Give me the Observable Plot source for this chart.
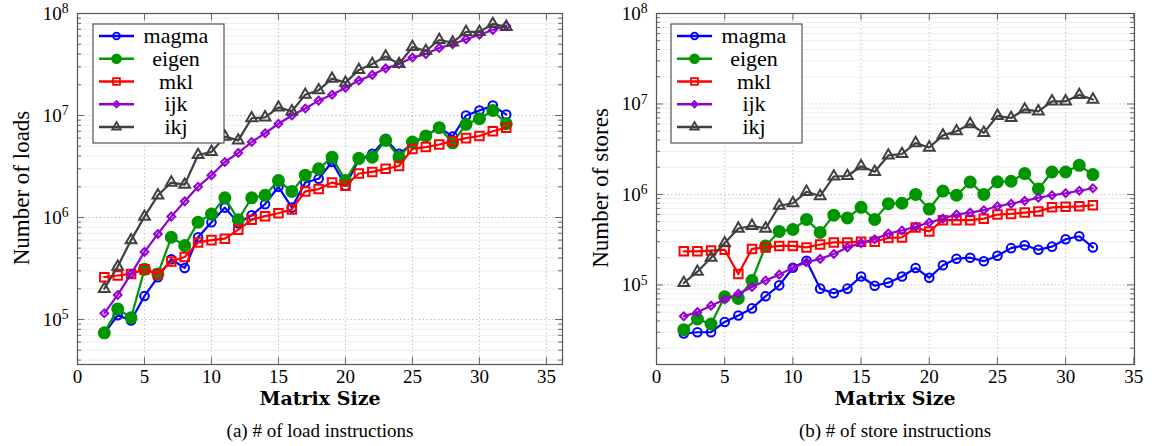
<!DOCTYPE html>
<html><head><meta charset="utf-8">
<script src="https://cdn.jsdelivr.net/npm/d3@7"></script>
<script src="https://cdn.jsdelivr.net/npm/@observablehq/plot@0.6"></script>
<style>
body{margin:0;background:#fff;}
#wrap{position:relative;width:1153px;height:446px;overflow:hidden;font-family:"Liberation Serif","Tinos","Times New Roman","DejaVu Serif",serif;color:#000;}
.panel{position:absolute;top:0;}
.xlabel{position:absolute;top:387px;font-family:"DejaVu Serif",serif;font-weight:bold;font-size:19px;transform:translateX(-50%);white-space:nowrap;}
.caption{position:absolute;top:420px;font-size:19px;transform:translateX(-50%);white-space:nowrap;}
.ylabel{position:absolute;font-size:23px;white-space:nowrap;transform:translate(-50%,-50%) rotate(-90deg);}
</style></head>
<body><div id="wrap"></div>
<script>
// ---------- data ----------
const sizes = [2,3,4,5,6,7,8,9,10,11,12,13,14,15,16,17,18,19,20,21,22,23,24,25,26,27,28,29,30,31,32];
const seriesNames = ["magma","eigen","mkl","ijk","ikj"];

const loadsMagma = [7.3e4,1.1e5,9.8e4,1.7e5,2.6e5,3.9e5,3.2e5,6.4e5,9.0e5,1.25e6,8.8e5,1.05e6,1.35e6,2.0e6,1.25e6,2.2e6,2.4e6,3.5e6,2.05e6,3.7e6,4.2e6,5.9e6,4.2e6,5.3e6,6.3e6,7.7e6,6.2e6,1.0e7,1.12e7,1.25e7,1.02e7];
const loadsEigen = [7.4e4,1.27e5,1.04e5,3.1e5,2.8e5,6.4e5,5.3e5,9.0e5,1.08e6,1.56e6,9.5e5,1.56e6,1.65e6,2.3e6,1.8e6,2.6e6,3.0e6,3.9e6,2.3e6,3.8e6,3.9e6,5.7e6,3.9e6,5.5e6,6.3e6,7.6e6,5.4e6,8.2e6,9.3e6,1.12e7,8.3e6];
const loadsMkl = [2.6e5,2.7e5,2.8e5,3.1e5,2.8e5,3.7e5,4.1e5,5.7e5,6.0e5,6.2e5,7.6e5,9.5e5,1.03e6,1.1e6,1.2e6,1.8e6,1.9e6,2.2e6,2.05e6,2.7e6,2.8e6,3.0e6,3.2e6,4.7e6,4.9e6,5.2e6,5.6e6,6.0e6,6.3e6,7.0e6,7.6e6];
const loadsIjk = [1.15e5,1.74e5,2.8e5,4.6e5,6.9e5,1.02e6,1.44e6,2.0e6,2.6e6,3.5e6,4.3e6,5.5e6,6.7e6,8.3e6,1.0e7,1.17e7,1.4e7,1.6e7,1.87e7,2.2e7,2.5e7,2.9e7,3.2e7,3.7e7,4.0e7,4.6e7,5.0e7,5.6e7,6.2e7,6.9e7,7.6e7];
const loadsIkj = [2.0e5,3.3e5,6.0e5,1.02e6,1.65e6,2.2e6,2.1e6,4.1e6,4.4e6,6.2e6,5.7e6,9.4e6,9.6e6,1.2e7,1.1e7,1.6e7,1.77e7,2.3e7,2.1e7,2.8e7,3.2e7,3.8e7,3.2e7,4.7e7,4.3e7,5.5e7,5.2e7,6.6e7,6.6e7,7.9e7,7.4e7];

const storesMagma = [2.9e4,3.0e4,3.0e4,3.9e4,4.6e4,5.5e4,7.5e4,9.9e4,1.55e5,1.85e5,9.1e4,8.1e4,9.1e4,1.24e5,9.8e4,1.06e5,1.24e5,1.54e5,1.2e5,1.65e5,1.95e5,2.0e5,1.83e5,2.1e5,2.55e5,2.75e5,2.45e5,2.65e5,3.2e5,3.45e5,2.6e5];
const storesEigen = [3.2e4,4.2e4,3.7e4,7.4e4,7.1e4,1.12e5,2.7e5,3.9e5,4.1e5,5.3e5,3.8e5,5.9e5,5.5e5,7.2e5,5.3e5,7.9e5,8.0e5,1.0e6,6.9e5,1.09e6,9.8e5,1.37e6,1.0e6,1.38e6,1.4e6,1.7e6,1.15e6,1.77e6,1.77e6,2.1e6,1.66e6];
const storesMkl = [2.35e5,2.35e5,2.4e5,2.45e5,1.32e5,2.5e5,2.6e5,2.7e5,2.7e5,2.6e5,2.8e5,2.95e5,2.95e5,3.0e5,3.0e5,3.3e5,3.35e5,4.3e5,3.9e5,5.2e5,5.2e5,5.2e5,5.4e5,6.0e5,6.1e5,6.3e5,6.5e5,7.2e5,7.3e5,7.4e5,7.6e5];
const storesIjk = [4.5e4,5.0e4,5.9e4,6.9e4,8.0e4,9.5e4,1.12e5,1.3e5,1.55e5,1.78e5,1.94e5,2.2e5,2.6e5,2.9e5,3.2e5,3.7e5,4.0e5,4.4e5,4.9e5,5.4e5,6.0e5,6.3e5,6.7e5,7.4e5,7.9e5,8.5e5,9.2e5,9.8e5,1.03e6,1.1e6,1.17e6];
const storesIkj = [1.05e5,1.4e5,2.0e5,2.9e5,4.2e5,4.5e5,4.2e5,7.5e5,8.0e5,1.07e6,9.6e5,1.58e6,1.6e6,2.05e6,1.78e6,2.7e6,2.8e6,3.7e6,3.3e6,4.5e6,5.0e6,6.0e6,4.8e6,7.4e6,7.0e6,8.7e6,8.3e6,1.07e7,1.07e7,1.26e7,1.12e7];

const yMajorTicks = [1e5,1e6,1e7,1e8];
const xTickValues = [0,5,10,15,20,25,30,35];
const yLabels = ["Number of loads","Number of stores"];
const xLabel = "Matrix Size";
const captions = ["(a) # of load instructions","(b) # of store instructions"];

const FONT = "'Liberation Serif', Tinos, 'Times New Roman', 'DejaVu Serif', serif";

// ---------- styles ----------
const styles = {
  magma:{color:"#0000ff", symbol:"circle",   fill:"none",    r:4.3},
  eigen:{color:"#009600", symbol:"circle",   fill:"#009600", r:5.5},
  mkl:  {color:"#ff0000", symbol:"square",   fill:"none",    r:4.8},
  ijk:  {color:"#9400d3", symbol:"diamond2", fill:"none",    r:3.5},
  ikj:  {color:"#404040", symbol:"triangle", fill:"none",    r:4.0}
};

function rows(arrs){
  return seriesNames.flatMap((s,k)=>sizes.map((n,i)=>({series:s, n, v:arrs[k][i]})));
}

function panel(opts){
  const {data, yDomain, xDomain, width, height, ml, mr, mt, mb, legendX} = opts;
  const pw = width - ml - mr, ph = height - mt - mb;
  const minor = [];
  for (let e=3;e<8;e++) for (let m=2;m<10;m++){const v=m*Math.pow(10,e); if(v>yDomain[0]&&v<yDomain[1]) minor.push(v);}
  const gridX = xTickValues.filter(t=>t>xDomain[0] && t<xDomain[1]);
  const tickStroke = "#6a6a6a";
  const marks = [
    Plot.ruleY(minor, {stroke:"#eeeeee", strokeWidth:1}),
    Plot.ruleY(yMajorTicks.filter(t=>t<yDomain[1]), {stroke:"#b8b8b8", strokeDasharray:"1.2,2.6"}),
    Plot.ruleX(gridX, {stroke:"#b8b8b8", strokeDasharray:"1.2,2.6"}),
    Plot.tickY(minor, {insetRight: pw-4, stroke:tickStroke}),
    Plot.tickY(minor, {insetLeft: pw-4, stroke:tickStroke}),
    Plot.tickY(yMajorTicks, {insetRight: pw-7, stroke:tickStroke}),
    Plot.tickY(yMajorTicks, {insetLeft: pw-7, stroke:tickStroke}),
    Plot.tickX(gridX, {insetTop: ph-7, stroke:tickStroke}),
    Plot.tickX(gridX, {insetBottom: ph-7, stroke:tickStroke})
  ];
  for (const s of seriesNames){
    const st = styles[s];
    const d = data.filter(r=>r.series===s);
    marks.push(Plot.line(d, {x:"n", y:"v", stroke:st.color, strokeWidth:2.2}));
    marks.push(Plot.dot(d, {x:"n", y:"v", symbol:st.symbol, r:st.r, stroke:st.color, fill:st.fill, strokeWidth:2}));
  }
  marks.push(Plot.frame({stroke:"#555", strokeWidth:1.2}));
  marks.push(Plot.axisX({ticks:xTickValues, tickSize:0, tickPadding:5, fontSize:19, tickFormat:d=>String(d), label:null}));
  marks.push(Plot.axisY({ticks:yMajorTicks, tickSize:0, tickPadding:9, fontSize:19, tickFormat:d=>"10^"+Math.round(Math.log10(d)), label:null}));

  const svgEl = Plot.plot({
    width, height, marginLeft:ml, marginRight:mr, marginTop:mt, marginBottom:mb,
    style:{fontFamily:FONT, background:"transparent", color:"#000"},
    x:{domain:xDomain},
    y:{type:"log", domain:yDomain},
    marks
  });
  d3.select(svgEl).attr("font-family", FONT).style("font-family", FONT);

  // superscript exponents
  d3.select(svgEl).selectAll('g[aria-label="y-axis tick label"] text').each(function(){
    const t = this.textContent;
    const m = t.match(/^10\^(\d+)$/);
    if (m){
      const el = d3.select(this);
      el.text("10");
      el.append("tspan").attr("dy","-0.45em").attr("font-size","0.72em").text(m[1]);
    }
  });

  // legend
  const lg = d3.select(svgEl).append("g").attr("transform",`translate(${legendX},24)`);
  lg.append("rect").attr("width",131).attr("height",119).attr("fill","#fff").attr("stroke","#444").attr("stroke-width",1.1);
  seriesNames.forEach((s,i)=>{
    const st = styles[s];
    const y = 12 + i*22.75;
    lg.append("line").attr("x1",6).attr("x2",41).attr("y1",y).attr("y2",y).attr("stroke",st.color).attr("stroke-width",2.4);
    const symMap = {circle:d3.symbolCircle, square:d3.symbolSquare, diamond2:d3.symbolDiamond2, triangle:d3.symbolTriangle};
    const rr = st.r*0.8;
    lg.append("path").attr("d", d3.symbol(symMap[st.symbol], Math.PI*rr*rr)())
      .attr("transform",`translate(23.5,${y})`).attr("stroke",st.color).attr("stroke-width",1.8).attr("fill",st.fill);
    lg.append("text").attr("x",83).attr("y",y).attr("dy","0.32em").attr("text-anchor","middle")
      .attr("font-size",22).style("font-family",FONT).text(s);
  });
  return svgEl;
}

const wrap = document.getElementById("wrap");
const cfgs = [
  {data:rows([loadsMagma,loadsEigen,loadsMkl,loadsIjk,loadsIkj]), yDomain:[3.62e4,1e8], xDomain:[0,36.2],
   left:0, width:576, height:392, ml:77, mr:14, mt:13, mb:28, legendX:93, ylx:22, xc:320},
  {data:rows([storesMagma,storesEigen,storesMkl,storesIjk,storesIkj]), yDomain:[1.32e4,1e8], xDomain:[0,35.05],
   left:576, width:577, height:392, ml:80, mr:19, mt:13, mb:28, legendX:95, ylx:601, xc:895}
];
cfgs.forEach((c,i)=>{
  const el = panel(c);
  const div = document.createElement("div");
  div.className="panel"; div.style.left=c.left+"px";
  div.appendChild(el); wrap.appendChild(div);
  const yl = document.createElement("div"); yl.className="ylabel"; yl.textContent=yLabels[i];
  yl.style.left=c.ylx+"px"; yl.style.top="188px"; wrap.appendChild(yl);
  const xl = document.createElement("div"); xl.className="xlabel"; xl.textContent=xLabel;
  xl.style.left=c.xc+"px"; wrap.appendChild(xl);
  const cap = document.createElement("div"); cap.className="caption"; cap.textContent=captions[i];
  cap.style.left=c.xc+"px"; wrap.appendChild(cap);
});
</script></body></html>
